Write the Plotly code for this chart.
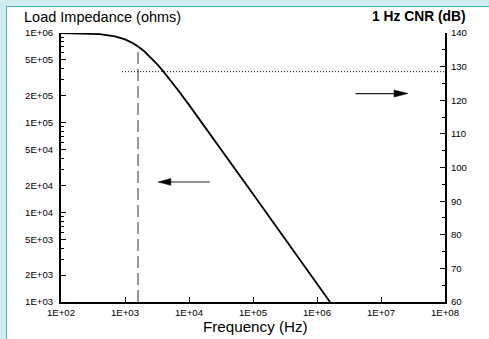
import plotly.graph_objects as go

# ---- data ----
freq_hz = [100, 200, 400, 700, 1000, 1300, 1600, 2000, 2500, 3200, 4000, 5000,
           7000, 10000, 20000, 100000, 1000000, 1600000]
impedance_ohm = [9.98e5, 9.92e5, 9.7e5, 9.16e5, 8.48e5, 7.76e5, 7.07e5, 6.25e5,
                 5.39e5, 4.47e5, 3.71e5, 3.05e5, 2.23e5, 1.58e5, 8.0e4, 1.6e4,
                 1.6e3, 1.0e3]

corner_freq = 1600          # dashed vertical marker (Hz)
corner_imp = 7.07e5         # where the dashed marker meets the curve
cnr_level = 128.5           # dotted horizontal level (dB, right axis)
dotted_start_freq = 900     # dotted line start (Hz)

x_tickvals = [1e2, 1e3, 1e4, 1e5, 1e6, 1e7, 1e8]
x_ticktext = ["1E+02", "1E+03", "1E+04", "1E+05", "1E+06", "1E+07", "1E+08"]
y_tickvals = [1e3, 2e3, 5e3, 1e4, 2e4, 5e4, 1e5, 2e5, 5e5, 1e6]
y_ticktext = ["1E+03", "2E+03", "5E+03", "1E+04", "2E+04", "5E+04",
              "1E+05", "2E+05", "5E+05", "1E+06"]
y_minorvals = [m * 10 ** e for e in (3, 4, 5) for m in (3, 4, 6, 7, 8, 9)]

# arrows: (tail, tip) in data units
arrow_right = dict(y=122.0, x_tail=4.0e6, x_base=1.6e7, x_tip=2.64e7, half=1.05)
arrow_left = dict(y=2.18e4, x_tail=2.13e4, x_base=5.2e3, x_tip=3.28e3,
                  ylo=2.0e4, yhi=2.38e4)

FONT = "Liberation Sans, Arial, sans-serif"

# plot area in pixels (for paper coordinate conversion of page decoration)
L, R, T, B = 61, 445, 33, 302
def px(xp):
    return (xp - L) / (R - L)
def py(yp):
    return (B - yp) / (B - T)

fig = go.Figure()
fig.add_trace(go.Scatter(x=freq_hz, y=impedance_ohm, mode="lines",
                         line=dict(color="black", width=1.8),
                         hoverinfo="skip", showlegend=False))
# dummy trace on the right axis
fig.add_trace(go.Scatter(x=[1e2], y=[60], yaxis="y2", mode="markers",
                         marker=dict(opacity=0), showlegend=False, hoverinfo="skip"))

# page decoration: light cyan band top/left with teal edge
band = "#cfecef"
edge = "#4fb0bf"
fig.add_shape(type="rect", xref="paper", yref="paper", x0=px(0), x1=px(6),
              y0=py(339), y1=py(0), fillcolor=band, line=dict(width=0))
fig.add_shape(type="rect", xref="paper", yref="paper", x0=px(0), x1=px(489),
              y0=py(6), y1=py(0), fillcolor=band, line=dict(width=0))
fig.add_shape(type="line", xref="paper", yref="paper", x0=px(6.5), x1=px(6.5),
              y0=py(339), y1=py(6), line=dict(color=edge, width=1))
fig.add_shape(type="line", xref="paper", yref="paper", x0=px(6), x1=px(489),
              y0=py(6.5), y1=py(6.5), line=dict(color=edge, width=1))

# dashed vertical marker
fig.add_shape(type="line", xref="x", yref="y", x0=corner_freq, x1=corner_freq,
              y0=1e3, y1=corner_imp,
              line=dict(color="#808080", width=1.6, dash="12px,5px"))
# dotted horizontal level
fig.add_shape(type="line", xref="x", yref="y2", x0=dotted_start_freq, x1=1e8,
              y0=cnr_level, y1=cnr_level,
              line=dict(color="black", width=1, dash="1px,2px"))
# right arrow
ar = arrow_right
fig.add_shape(type="line", xref="x", yref="y2", x0=ar["x_tail"], x1=ar["x_base"],
              y0=ar["y"], y1=ar["y"], line=dict(color="#222", width=1.2))
fig.add_shape(type="path", xref="x", yref="y2",
              path=f"M{ar['x_base']},{ar['y']-ar['half']} L{ar['x_tip']},{ar['y']} "
                   f"L{ar['x_base']},{ar['y']+ar['half']} Z",
              fillcolor="black", line=dict(color="black", width=0.5))
# left arrow
al = arrow_left
fig.add_shape(type="line", xref="x", yref="y", x0=al["x_tail"], x1=al["x_base"],
              y0=al["y"], y1=al["y"], line=dict(color="#222", width=1.2))
fig.add_shape(type="path", xref="x", yref="y",
              path=f"M{al['x_base']},{al['ylo']} L{al['x_tip']},{al['y']} "
                   f"L{al['x_base']},{al['yhi']} Z",
              fillcolor="black", line=dict(color="black", width=0.5))

annotations = [
    dict(text="Load Impedance (ohms)", xref="paper", yref="paper", x=px(21.5), y=py(16.5),
         xanchor="left", yanchor="middle", showarrow=False,
         font=dict(family=FONT, size=14.5, color="black")),
    dict(text="<b>1 Hz CNR (dB)</b>", xref="paper", yref="paper", x=px(468), y=py(16.5),
         xanchor="right", yanchor="middle", showarrow=False,
         font=dict(family=FONT, size=13.8, color="black")),
    dict(text="Frequency (Hz)", xref="paper", yref="paper", x=px(255), y=py(326.5),
         xanchor="center", yanchor="middle", showarrow=False,
         font=dict(family=FONT, size=15.2, color="black")),
]

tickfont = dict(family=FONT, size=9.6, color="black")

fig.update_layout(
    template="none",
    width=489, height=339, autosize=False,
    margin=dict(l=L, r=489 - R, t=T, b=339 - B, pad=0, autoexpand=False),
    paper_bgcolor="white", plot_bgcolor="white",
    showlegend=False,
    annotations=annotations,
    xaxis=dict(type="log", range=[2, 8], tickvals=x_tickvals, ticktext=x_ticktext,
               ticks="inside", ticklen=5, tickwidth=1, tickcolor="black",
               showline=True, linecolor="black", linewidth=2, showgrid=False,
               zeroline=False, tickfont=tickfont, ticklabelstandoff=0,
               automargin=False),
    yaxis=dict(type="log", range=[3, 6], tickvals=y_tickvals, ticktext=y_ticktext,
               ticks="inside", ticklen=5, tickwidth=1, tickcolor="black",
               minor=dict(tickvals=y_minorvals, ticks="inside", ticklen=3,
                          tickwidth=1, tickcolor="black"),
               showline=True, linecolor="black", linewidth=2, showgrid=False,
               zeroline=False, tickfont=tickfont, ticklabelstandoff=4,
               automargin=False),
    yaxis2=dict(overlaying="y", side="right", range=[60, 140], dtick=10, tick0=60,
                ticks="inside", ticklen=5, tickwidth=1, tickcolor="black",
                minor=dict(dtick=5, ticks="inside", ticklen=3, tickwidth=1,
                           tickcolor="black"),
                showline=True, linecolor="black", linewidth=2, showgrid=False,
                zeroline=False, tickfont=tickfont, ticklabelstandoff=2,
                automargin=False),
)

fig.write_html("out.html", config={"displayModeBar": False},
               post_script="document.body.style.margin='0';"
                           "document.body.style.overflow='hidden';")
